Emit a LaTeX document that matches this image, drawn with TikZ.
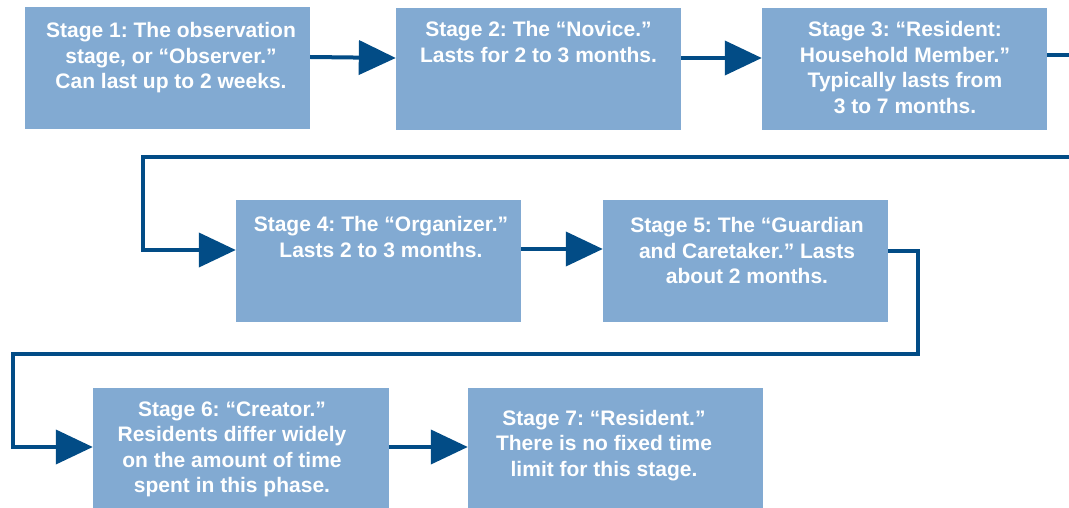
\documentclass[tikz,border=0pt]{standalone}
\usepackage{fontspec}
\setmainfont{Liberation Sans}
\usetikzlibrary{arrows.meta}
\frenchspacing
\definecolor{boxblue}{RGB}{130,170,210}
\definecolor{lineblue}{RGB}{2,76,134}
\tikzset{
  box/.style={rectangle, fill=boxblue, draw=none, minimum width=285pt, minimum height=122pt, inner sep=0pt},
  txt/.style={anchor=base, inner sep=0pt, text=white, font=\fontsize{21}{25.5}\selectfont\bfseries},
  link/.style={draw=lineblue, line width=4pt},
  arr/.style={link, -{Triangle[length=37pt,width=34pt]}},
}
\newcommand{\boxtext}[1]{\parbox[t]{300pt}{\centering\frenchspacing #1}}
\begin{document}
\begin{tikzpicture}[x=1pt,y=-1pt]
\useasboundingbox (0,0) rectangle (1069,508);
% boxes
\node[box] (b1) at (167.5,68) {};
\node[box] (b2) at (538.5,69) {};
\node[box] (b3) at (904.5,69) {};
\node[box] (b4) at (378.5,261) {};
\node[box] (b5) at (745.5,261) {};
\node[box, minimum width=296pt] (b6) at (241,449) {};
\node[box, minimum width=295pt] (b7) at (615.5,449) {};
% texts
\node[txt] (t1) at (171,38) {\boxtext{Stage 1: The observation\\stage, or “Observer.”\\Can last up to 2 weeks.}};
\node[txt] (t2) at (538.5,37) {\boxtext{Stage 2: The “Novice.”\\Lasts for 2 to 3 months.}};
\node[txt] (t3) at (905,37) {\boxtext{Stage 3: “Resident:\\Household Member.”\\Typically lasts from\\3 to 7 months.}};
\node[txt] (t4) at (381,232) {\boxtext{Stage 4: The “Organizer.”\\Lasts 2 to 3 months.}};
\node[txt] (t5) at (747,233) {\boxtext{Stage 5: The “Guardian\\and Caretaker.” Lasts\\about 2 months.}};
\node[txt] (t6) at (232,416) {\boxtext{Stage 6: “Creator.”\\Residents differ widely\\on the amount of time\\spent in this phase.}};
\node[txt] (t7) at (604,425) {\boxtext{Stage 7: “Resident.”\\There is no fixed time\\limit for this stage.}};
% coordinates
\coordinate (e3) at (1073,55);
\coordinate (w1) at (1073,157);
\coordinate (w2) at (143,157);
\coordinate (r5) at (918,354);
\coordinate (l5) at (13,354);
% connectors
\draw[arr] ([yshift=11pt]b1.east) -- ([yshift=11pt]b2.west);
\draw[arr] ([yshift=11pt]b2.east) -- ([yshift=11pt]b3.west);
\draw[link] (b3.east |- e3) -- (e3);
\draw[arr] (w1) -- (w2) |- ([yshift=11pt]b4.west);
\draw[arr] ([yshift=12pt]b4.east) -- ([yshift=12pt]b5.west);
\draw[arr] ([yshift=10pt]b5.east) -| (r5) -- (l5) |- ([yshift=2pt]b6.west);
\draw[arr] ([yshift=2pt]b6.east) -- ([yshift=2pt]b7.west);
\end{tikzpicture}
\end{document}
